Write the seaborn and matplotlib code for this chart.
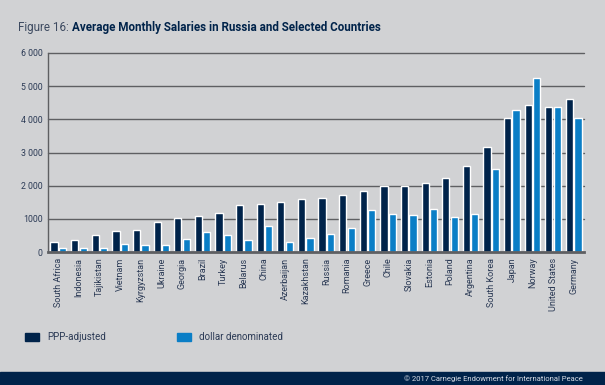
import matplotlib
matplotlib.use('Agg')  # no display
import matplotlib.pyplot as plt
from matplotlib.patches import Rectangle
import seaborn as sns
import pandas as pd

countries = ["South Africa", "Indonesia", "Tajikistan", "Vietnam", "Kyrgyzstan",
             "Ukraine", "Georgia", "Brazil", "Turkey", "Belarus", "China",
             "Azerbaijan", "Kazakhstan", "Russia", "Romania", "Greece", "Chile",
             "Slovakia", "Estonia", "Poland", "Argentina", "South Korea", "Japan",
             "Norway", "United States", "Germany"]
ppp_adjusted = [300, 375, 505, 635, 675, 915, 1035, 1095, 1185, 1425, 1445,
                1520, 1595, 1620, 1710, 1830, 1980, 1990, 2095, 2225, 2585,
                3180, 4055, 4430, 4380, 4600]
dollar_denominated = [120, 115, 125, 230, 200, 200, 400, 595, 515, 375, 775,
                      300, 435, 555, 725, 1260, 1160, 1130, 1310, 1045, 1140,
                      2515, 4275, 5240, 4380, 4055]
series_names = ["PPP-adjusted", "dollar denominated"]
y_ticks = [0, 1000, 2000, 3000, 4000, 5000, 6000]
y_tick_labels = ["0", "1000", "2 000", "3 000", "4 000", "5 000", "6 000"]

BG = "#d1d2d4"
NAVY = "#00234a"
BLUE = "#0a7ec6"
GRID = "#5e5f62"
TEXT = "#2b3a55"

df = pd.DataFrame({
    "country": countries * 2,
    "value": ppp_adjusted + dollar_denominated,
    "series": [series_names[0]] * len(countries) + [series_names[1]] * len(countries),
})

sns.set_theme(style="white")
plt.rcParams['font.family'] = ['Roboto', 'DejaVu Sans']

fig = plt.figure(figsize=(6.05, 3.85), dpi=100, facecolor=BG)
ax = fig.add_axes([48 / 605, 133 / 385, 536 / 605, 199 / 385])
ax.set_facecolor(BG)

sns.barplot(data=df, x="country", y="value", hue="series", order=countries,
            hue_order=series_names, palette=[NAVY, BLUE], width=0.82, gap=0.15,
            saturation=1, ax=ax, legend=False)

ax.set_xlim(-0.5, len(countries) - 0.5)
ax.set_ylim(0, 6000)
ax.set_yticks(y_ticks)
ax.set_yticklabels(y_tick_labels, fontsize=6.3, color=TEXT)
ax.set_xlabel("")
ax.set_ylabel("")
ax.tick_params(axis="x", labelrotation=90, labelsize=6.5, labelcolor=TEXT,
               length=0, pad=4)
ax.tick_params(axis="y", length=0, pad=4)
for y in y_ticks[1:]:
    ax.axhline(y, color=GRID, lw=1.0, zorder=0, clip_on=False)
ax.set_axisbelow(True)
for side in ["top", "right"]:
    ax.spines[side].set_visible(False)
ax.spines["left"].set_color(GRID)
ax.spines["left"].set_linewidth(1.0)
ax.spines["bottom"].set_color(GRID)
ax.spines["bottom"].set_linewidth(2.0)

# title: regular prefix + bold part
t1 = fig.text(18 / 605, 1 - 28 / 385, "Figure 16: ", fontsize=8.4, color="#3d4a60",
              va="center", ha="left")
ax.annotate("Average Monthly Salaries in Russia and Selected Countries",
            xy=(1, 0.5), xycoords=t1, va="center", ha="left", fontsize=8.4,
            fontweight="bold", color=NAVY, annotation_clip=False)

# legend
for x0, name, col in [(25, series_names[0], NAVY), (177, series_names[1], BLUE)]:
    fig.patches.append(Rectangle((x0 / 605, 1 - 341 / 385), 14 / 605, 8 / 385,
                                 transform=fig.transFigure, color=col))
    fig.text((x0 + 22) / 605, 1 - 337 / 385, name, fontsize=7, color=TEXT,
             va="center", ha="left")

# footer band
fig.patches.append(Rectangle((0, 0), 1, 13 / 385, transform=fig.transFigure,
                             color=NAVY, zorder=0))
fig.text(583 / 605, 6.5 / 385, "\u00a9 2017 Carnegie Endowment for International Peace",
         fontsize=5.5, color="#d8dde6", va="center", ha="right")

fig.savefig("out.png", dpi=100, facecolor=BG)
plt.close(fig)
